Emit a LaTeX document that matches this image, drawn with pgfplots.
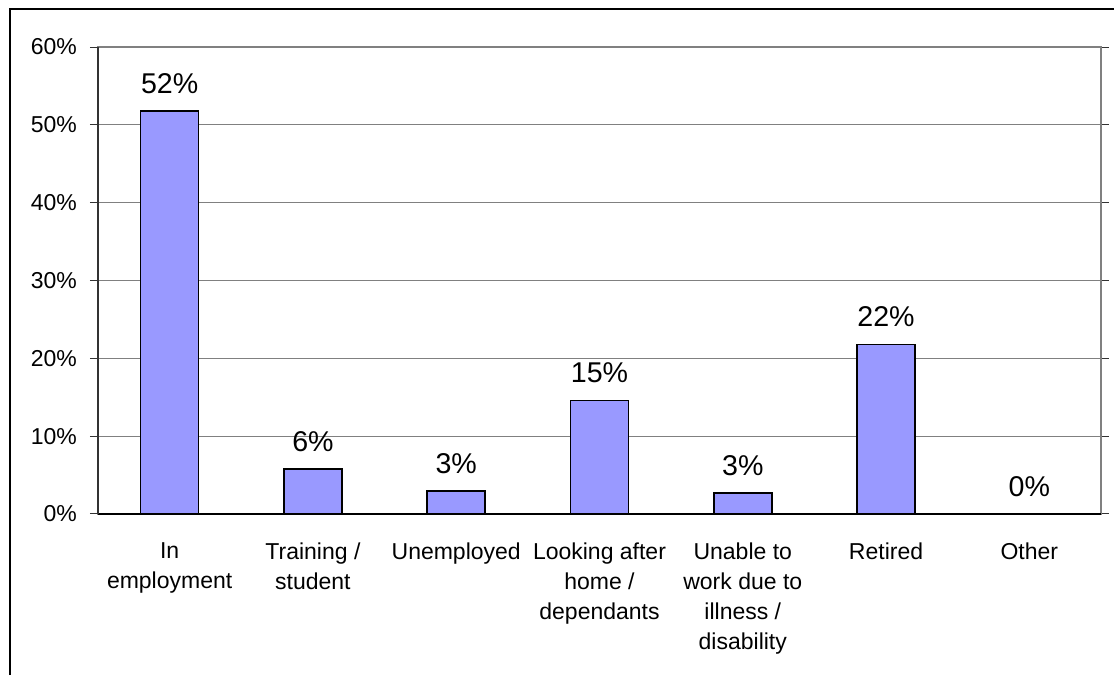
\documentclass[border=0pt]{standalone}
\usepackage{pgfplots}
\pgfplotsset{compat=1.18}
\usepackage{fontspec}
\setmainfont{Liberation Sans}
\definecolor{barblue}{HTML}{9999FF}
\definecolor{gridgray}{HTML}{808080}
\begin{document}
\begin{tikzpicture}
\useasboundingbox (0,0) rectangle (557pt,337.5pt);
\draw[black, line width=1pt] (5pt,0) -- (5pt,333pt) -- (557pt,333pt);
\begin{axis}[
  /pgf/number format/assume math mode=true,
  at={(49pt,80.5pt)}, anchor=south west,
  scale only axis, width=501.5pt, height=233.5pt,
  ymin=0, ymax=60, ytick={0,10,...,60},
  yticklabels={0\%,10\%,20\%,30\%,40\%,50\%,60\%},
  xmin=-0.5, xmax=6.5,
  xtick={0,...,6},
  xticklabels={In\\employment, Training /\\student, Unemployed, Looking after\\home /\\dependants, Unable to\\work due to\\illness /\\disability, Retired, Other},
  x tick label style={align=center, anchor=north, font=\fontsize{11.5}{15}\selectfont, yshift=-7pt},
  y tick label style={font=\fontsize{11.5}{14}\selectfont, anchor=east, xshift=-3pt},
  x tick style={draw=none},
  extra x ticks={-0.5,0.5,...,6.5},
  extra x tick labels={},
  extra x tick style={tick align=outside, major tick length=3.5pt, tick style={draw=black, line width=0.5pt}},
  ytick align=outside, major tick length=4pt,
  y tick style={draw=black!80, line width=0.5pt},
  ymajorgrids, grid style={draw=gridgray, line width=0.6pt},
  axis line style={draw=gridgray, line width=0.8pt},
  ybar, bar width=29pt,
  nodes near coords={\fontsize{14.3}{17}\selectfont\pgfmathprintnumber[fixed,precision=0,assume math mode=true]{\pgfplotspointmeta}\%},
  every node near coord/.append style={yshift=5pt},
  clip=false,
]
\addplot[fill=barblue, draw=black, line width=0.75pt] coordinates {
  (0,51.8) (1,5.8) (2,2.95) (3,14.6) (4,2.7) (5,21.8) (6,0)
};
\draw[black, line width=0.8pt] (axis cs:-0.5,0) -- (axis cs:6.5,0);
\draw[black!80, line width=0.8pt] (axis cs:-0.5,0) -- (axis cs:-0.5,60);
\end{axis}
\end{tikzpicture}
\end{document}
